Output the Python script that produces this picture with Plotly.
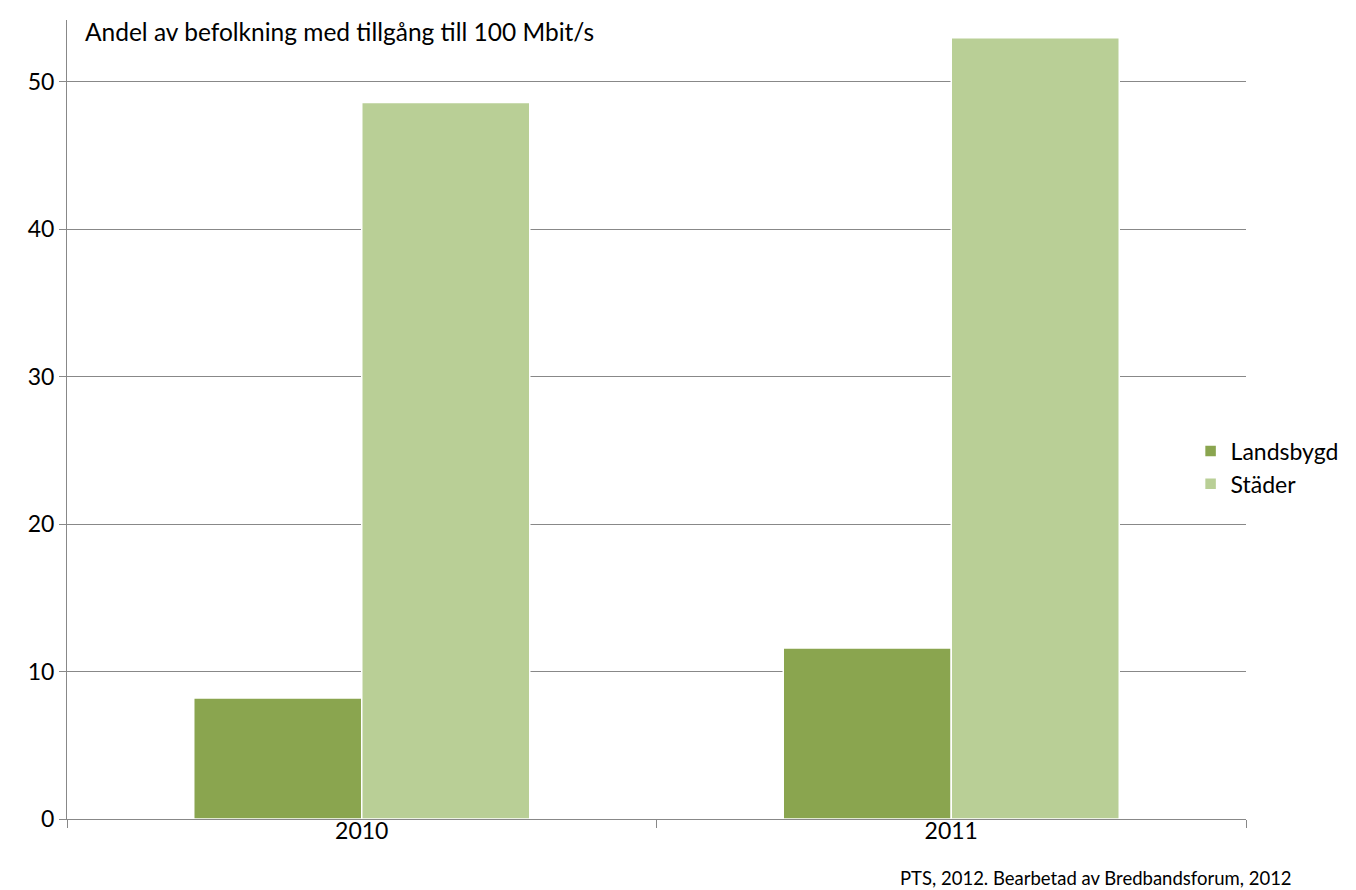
import plotly.graph_objects as go

years = ["2010", "2011"]
landsbygd = [8.2, 11.6]
stader = [48.6, 53.0]
series_names = ["Landsbygd", "Städer"]
colors = ["#8AA54F", "#B9CF96"]
title_text = "Andel av befolkning med tillgång till 100 Mbit/s"
source_text = "PTS, 2012. Bearbetad av Bredbandsforum, 2012"
y_ticks = [0, 10, 20, 30, 40, 50]

FONT = "Lato"

fig = go.Figure()
for name, vals, col in zip(series_names, [landsbygd, stader], colors):
    fig.add_trace(go.Bar(
        x=years, y=vals, name=name,
        marker=dict(color=col, line=dict(color="white", width=1.5)),
    ))

fig.update_layout(
    width=1348, height=882,
    margin=dict(l=59, r=108, t=12, b=71),
    paper_bgcolor="white", plot_bgcolor="white",
    barmode="group", bargap=0.43, bargroupgap=0,
    font=dict(family=FONT, size=23, color="black"),
    legend=dict(
        x=0.953, y=0.44, xanchor="left", yanchor="middle",
        xref="paper", yref="paper",
        font=dict(size=23), itemwidth=30, tracegroupgap=0,
        bgcolor="rgba(0,0,0,0)",
    ),
    showlegend=True,
)
fig.update_xaxes(
    type="category", showgrid=False, showline=True, linecolor="#888888", linewidth=1,
    ticks="outside", tickson="boundaries", ticklen=8, tickcolor="#888888",
    tickfont=dict(size=23), ticklabelstandoff=-9,
)
fig.update_yaxes(
    range=[0, 54.2], tickvals=y_ticks, showgrid=True, gridcolor="#888888", gridwidth=1,
    showline=True, linecolor="#888888", linewidth=1, zeroline=False,
    ticks="outside", ticklen=7, tickcolor="#888888", tickfont=dict(size=23),
)
fig.add_annotation(
    text=title_text, xref="paper", yref="paper", x=0.0135, y=0.985,
    xanchor="left", yanchor="middle", showarrow=False, font=dict(size=24.5),
)
fig.add_annotation(
    text=source_text, xref="paper", yref="paper", x=1.0406, y=-0.074,
    xanchor="right", yanchor="middle", showarrow=False, font=dict(size=18.5),
)

fig.write_html("out.html")
